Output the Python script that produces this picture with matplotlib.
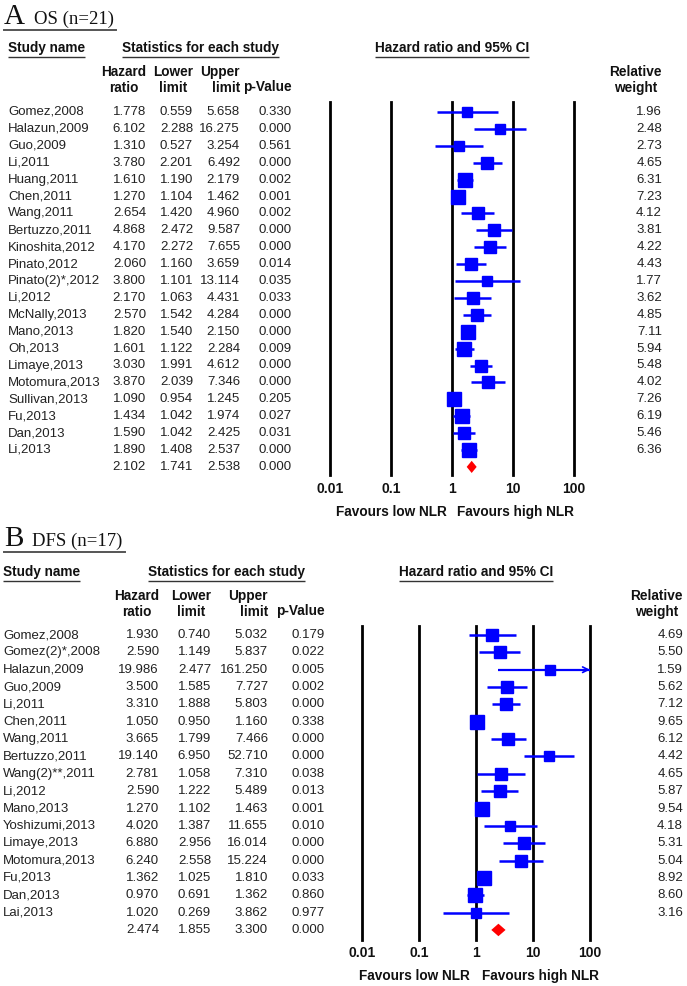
import matplotlib
matplotlib.use("Agg")
import matplotlib.pyplot as plt
import numpy as np

# ---------------- data ----------------
os_names = ["Gomez,2008", "Halazun,2009", "Guo,2009", "Li,2011", "Huang,2011", "Chen,2011",
            "Wang,2011", "Bertuzzo,2011", "Kinoshita,2012", "Pinato,2012", "Pinato(2)*,2012",
            "Li,2012", "McNally,2013", "Mano,2013", "Oh,2013", "Limaye,2013", "Motomura,2013",
            "Sullivan,2013", "Fu,2013", "Dan,2013", "Li,2013"]
os_hr = [1.778, 6.102, 1.310, 3.780, 1.610, 1.270, 2.654, 4.868, 4.170, 2.060, 3.800,
         2.170, 2.570, 1.820, 1.601, 3.030, 3.870, 1.090, 1.434, 1.590, 1.890]
os_lo = [0.559, 2.288, 0.527, 2.201, 1.190, 1.104, 1.420, 2.472, 2.272, 1.160, 1.101,
         1.063, 1.542, 1.540, 1.122, 1.991, 2.039, 0.954, 1.042, 1.042, 1.408]
os_hi = [5.658, 16.275, 3.254, 6.492, 2.179, 1.462, 4.960, 9.587, 7.655, 3.659, 13.114,
         4.431, 4.284, 2.150, 2.284, 4.612, 7.346, 1.245, 1.974, 2.425, 2.537]
os_p = ["0.330", "0.000", "0.561", "0.000", "0.002", "0.001", "0.002", "0.000", "0.000", "0.014",
        "0.035", "0.033", "0.000", "0.000", "0.009", "0.000", "0.000", "0.205", "0.027", "0.031", "0.000"]
os_w = [1.96, 2.48, 2.73, 4.65, 6.31, 7.23, 4.12, 3.81, 4.22, 4.43, 1.77, 3.62, 4.85, 7.11,
        5.94, 5.48, 4.02, 7.26, 6.19, 5.46, 6.36]
os_summary = [2.102, 1.741, 2.538, "0.000"]

dfs_names = ["Gomez,2008", "Gomez(2)*,2008", "Halazun,2009", "Guo,2009", "Li,2011", "Chen,2011",
             "Wang,2011", "Bertuzzo,2011", "Wang(2)**,2011", "Li,2012", "Mano,2013",
             "Yoshizumi,2013", "Limaye,2013", "Motomura,2013", "Fu,2013", "Dan,2013", "Lai,2013"]
dfs_hr = [1.930, 2.590, 19.986, 3.500, 3.310, 1.050, 3.665, 19.140, 2.781, 2.590, 1.270,
          4.020, 6.880, 6.240, 1.362, 0.970, 1.020]
dfs_lo = [0.740, 1.149, 2.477, 1.585, 1.888, 0.950, 1.799, 6.950, 1.058, 1.222, 1.102,
          1.387, 2.956, 2.558, 1.025, 0.691, 0.269]
dfs_hi = [5.032, 5.837, 161.250, 7.727, 5.803, 1.160, 7.466, 52.710, 7.310, 5.489, 1.463,
          11.655, 16.014, 15.224, 1.810, 1.362, 3.862]
dfs_p = ["0.179", "0.022", "0.005", "0.002", "0.000", "0.338", "0.000", "0.000", "0.038", "0.013",
         "0.001", "0.010", "0.000", "0.000", "0.033", "0.860", "0.977"]
dfs_w = [4.69, 5.50, 1.59, 5.62, 7.12, 9.65, 6.12, 4.42, 4.65, 5.87, 9.54, 4.18, 5.31, 5.04,
         8.92, 8.60, 3.16]
dfs_summary = [2.474, 1.855, 3.300, "0.000"]

tick_vals = [0.01, 0.1, 1, 10, 100]
tick_labels = ["0.01", "0.1", "1", "10", "100"]

# ---------------- figure ----------------
W, H = 687, 986
fig = plt.figure(figsize=(W / 100, H / 100), dpi=100)
axT = fig.add_axes([0, 0, 1, 1])
axT.set_xlim(0, W)
axT.set_ylim(H, 0)
axT.axis("off")

SANS = ["Liberation Sans", "DejaVu Sans"]
DATA_FONT = dict(family=SANS, fontsize=9.5, color="#222222")
HEAD_FONT = dict(family=["Liberation Sans Narrow", "Liberation Sans", "DejaVu Sans"],
                 fontsize=9.8, fontweight="bold", color="#111111")
SERIF = ["Liberation Serif", "DejaVu Serif"]

renderer = fig.canvas.get_renderer()


def underline(t, dy=3, lw=1.0, extend=0):
    bb = t.get_window_extent(renderer=renderer)
    y = H - bb.y0 + dy
    axT.plot([bb.x0 - extend, bb.x1 + extend], [y, y], color="#333333", lw=lw,
             solid_capstyle="butt")


def panel(letter, sub, title_y, head_y, names, hr, lo, hi, p, w, summary,
          row0, rstep, col_x, name_x, w_x, line_left, line_right, line_top,
          line_bottom, stats_cx, sq_a, sq_b, tick_pad, fav_y, fav_gap):
    # title
    tA = axT.text(4, title_y, letter, family=SERIF, fontsize=21, va="baseline",
                  ha="left", color="#111111")
    bb = tA.get_window_extent(renderer=renderer)
    tS = axT.text(bb.x1 + 9, title_y, sub, family=SERIF, fontsize=13.5,
                  va="baseline", ha="left", color="#111111")
    bb2 = tS.get_window_extent(renderer=renderer)
    axT.plot([4, bb2.x1 + 2], [title_y + 6, title_y + 6], color="#555555", lw=1.4)

    # group headers
    t = axT.text(name_x, head_y, "Study name", va="center", ha="left", **HEAD_FONT)
    underline(t, dy=2)
    t = axT.text(stats_cx, head_y, "Statistics for each study", va="center", ha="center",
                 **HEAD_FONT)
    underline(t, dy=2)
    cx = (line_left + line_right) / 2
    t = axT.text(cx, head_y, "Hazard ratio and 95% CI", va="center", ha="center", **HEAD_FONT)
    underline(t, dy=2)

    # column headers
    hy = head_y + 32
    axT.text(col_x[0], hy, "Hazard\nratio", ha="right", va="center", multialignment="center",
             linespacing=1.1, **HEAD_FONT)
    axT.text(col_x[1], hy, "Lower\nlimit", ha="right", va="center", multialignment="center",
             linespacing=1.1, **HEAD_FONT)
    axT.text(col_x[2], hy, "Upper\nlimit", ha="right", va="center", multialignment="right",
             linespacing=1.1, **HEAD_FONT)
    axT.text(col_x[3], hy + 7.5, "p-Value", ha="right", va="center", **HEAD_FONT)
    axT.text(w_x, hy, "Relative\nweight", ha="right", va="center", multialignment="center",
             linespacing=1.1, **HEAD_FONT)

    n = len(names)
    # table text
    for i in range(n):
        y = row0 + i * rstep
        axT.text(name_x, y, names[i], ha="left", va="center", **DATA_FONT)
        axT.text(col_x[0], y, f"{hr[i]:.3f}", ha="right", va="center", **DATA_FONT)
        axT.text(col_x[1], y, f"{lo[i]:.3f}", ha="right", va="center", **DATA_FONT)
        axT.text(col_x[2], y, f"{hi[i]:.3f}", ha="right", va="center", **DATA_FONT)
        axT.text(col_x[3], y, p[i], ha="right", va="center", **DATA_FONT)
        axT.text(w_x, y, f"{w[i]:.2f}", ha="right", va="center", **DATA_FONT)
    y = row0 + n * rstep
    axT.text(col_x[0], y, f"{summary[0]:.3f}", ha="right", va="center", **DATA_FONT)
    axT.text(col_x[1], y, f"{summary[1]:.3f}", ha="right", va="center", **DATA_FONT)
    axT.text(col_x[2], y, f"{summary[2]:.3f}", ha="right", va="center", **DATA_FONT)
    axT.text(col_x[3], y, summary[3], ha="right", va="center", **DATA_FONT)

    # forest axes
    ax = fig.add_axes([line_left / W, 1 - line_bottom / H, (line_right - line_left) / W,
                       (line_bottom - line_top) / H])
    ax.set_xscale("log")
    ax.set_xlim(tick_vals[0], tick_vals[-1])
    ax.set_ylim((line_bottom - row0) / rstep, (line_top - row0) / rstep)
    for s in ax.spines.values():
        s.set_visible(False)
    ax.set_yticks([])
    ax.set_xticks(tick_vals)
    ax.set_xticklabels(tick_labels, fontweight="bold", fontsize=10, family=SANS,
                       color="#111111")
    ax.xaxis.set_minor_locator(matplotlib.ticker.NullLocator())
    ax.tick_params(axis="x", length=0, pad=tick_pad)
    ax.patch.set_alpha(0)
    for v in tick_vals:
        ax.axvline(v, color="black", lw=2.0, zorder=1, clip_on=False)

    xmax = tick_vals[-1]
    for i in range(n):
        if hi[i] > xmax:
            ax.hlines(i, lo[i], xmax, color="blue", lw=1.6, zorder=2)
            ax.annotate("", xy=(xmax, i), xytext=(xmax * 0.8, i),
                        arrowprops=dict(arrowstyle="->", color="blue", lw=1.2,
                                        shrinkA=0, shrinkB=0, mutation_scale=10),
                        annotation_clip=False, zorder=3)
        else:
            ax.hlines(i, lo[i], hi[i], color="blue", lw=1.8, zorder=2)
        side_px = sq_a + sq_b * w[i]
        ax.plot(hr[i], i, marker="s", ms=side_px * 0.72, color="blue", mec="blue",
                zorder=3, clip_on=False)
    # summary diamond
    lo_s, hr_s, hi_s = summary[1], summary[0], summary[2]
    ax.fill([lo_s, hr_s, hi_s, hr_s], [n, n - 0.36, n, n + 0.36], color="red",
            zorder=3, clip_on=False, lw=0)

    # favours labels
    axT.text(cx - fav_gap, fav_y, "Favours low NLR", ha="right", va="center",
             fontweight="bold", fontsize=9.8, family=SANS, color="#111111")
    axT.text(cx + fav_gap, fav_y, "Favours high NLR", ha="left", va="center",
             fontweight="bold", fontsize=9.8, family=SANS, color="#111111")


panel("A", "OS (n=21)", 24, 48, os_names, os_hr, os_lo, os_hi, os_p, os_w, os_summary,
      row0=112, rstep=16.9, col_x=[146, 193, 240, 292], name_x=8, w_x=662,
      line_left=330, line_right=574, line_top=102, line_bottom=475,
      stats_cx=200, sq_a=8.0, sq_b=0.85, tick_pad=5, fav_y=512, fav_gap=5)

panel("B", "DFS (n=17)", 546, 572, dfs_names, dfs_hr, dfs_lo, dfs_hi, dfs_p, dfs_w,
      dfs_summary,
      row0=635, rstep=17.35, col_x=[159, 211, 268, 325], name_x=3, w_x=683,
      line_left=362, line_right=590, line_top=626, line_bottom=940,
      stats_cx=226, sq_a=8.2, sq_b=0.62, tick_pad=4, fav_y=976, fav_gap=6)

fig.savefig("out.png", dpi=100, facecolor="white")
